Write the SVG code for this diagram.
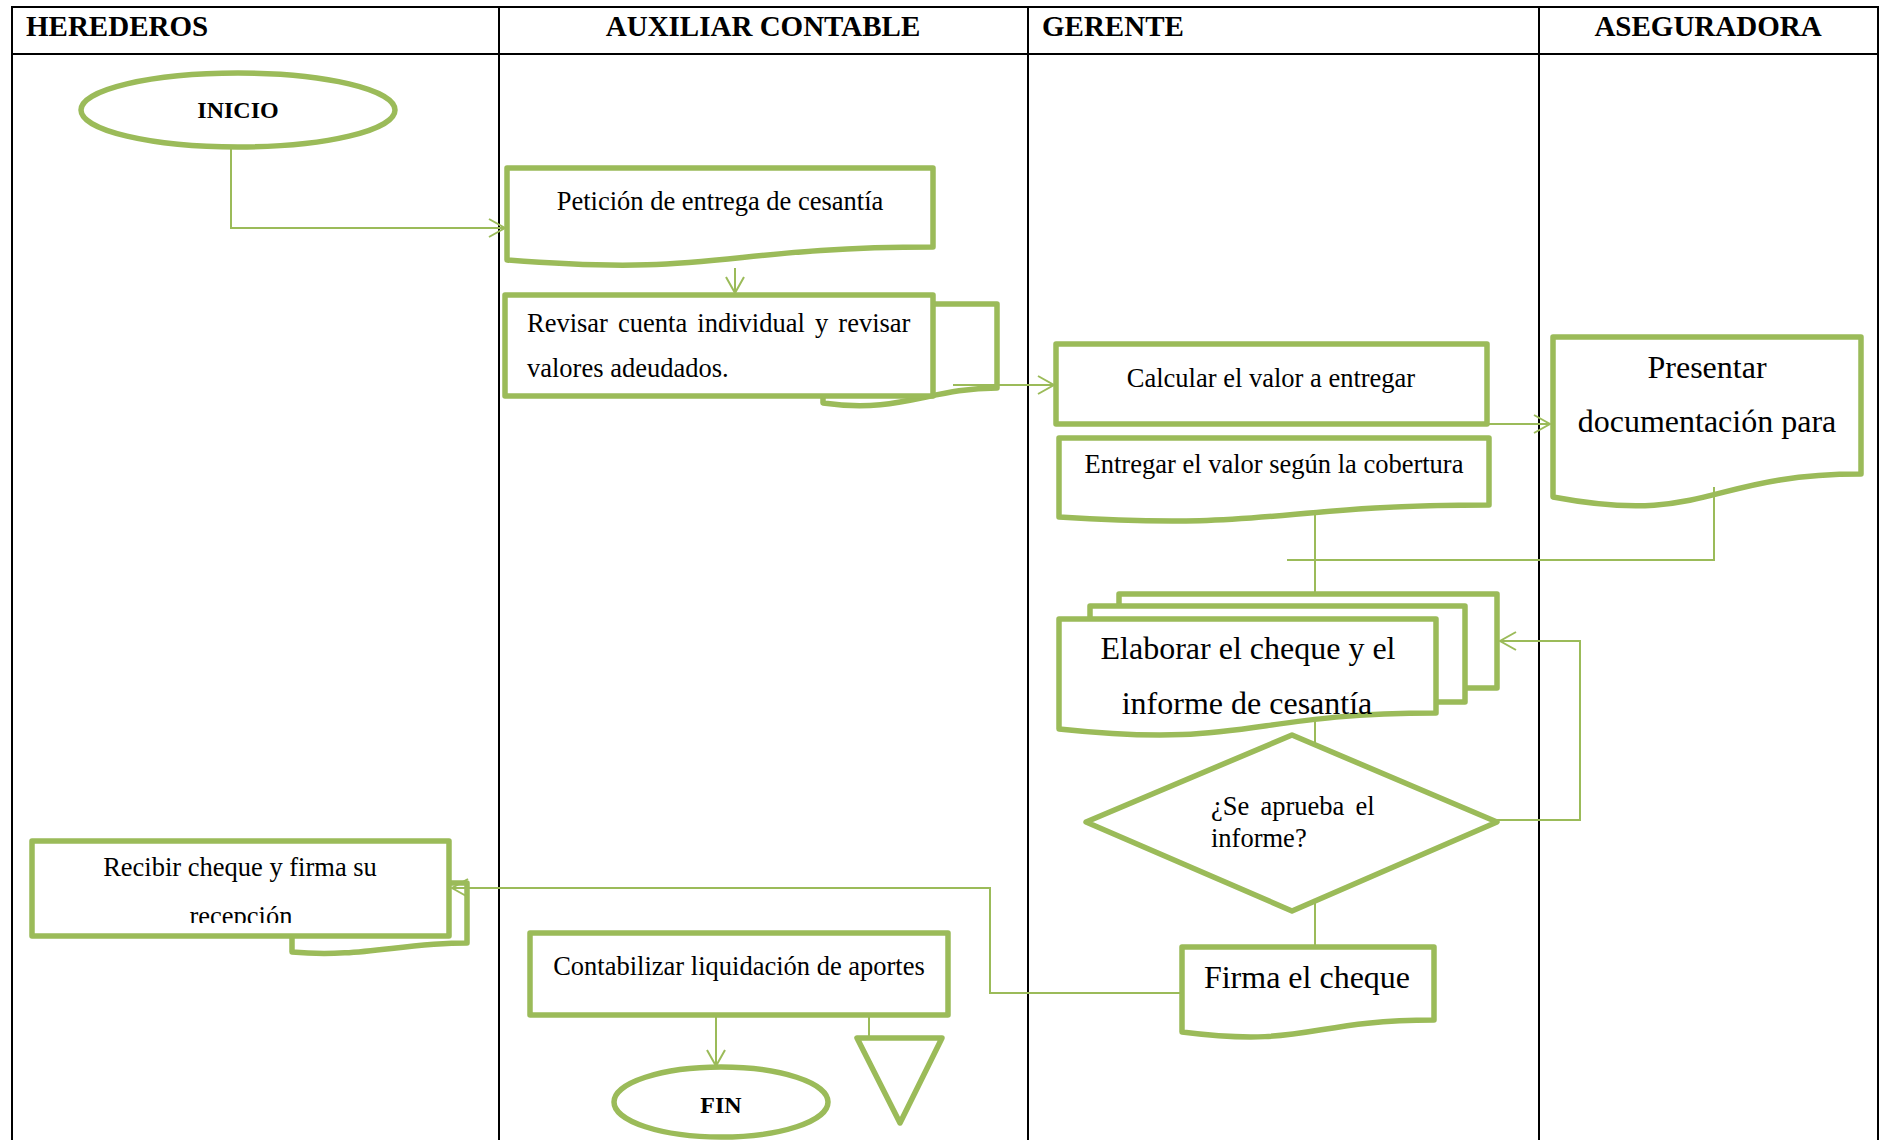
<svg xmlns="http://www.w3.org/2000/svg" width="1883" height="1140" viewBox="0 0 1883 1140">
<style>
  .grid{fill:none;stroke:#000;stroke-width:2}
  .hd{font-family:"Liberation Serif","Times New Roman",serif;font-weight:bold;font-size:29px;fill:#000}
  .shape{fill:#fff;stroke:#9BBB59;stroke-width:5.5;stroke-linejoin:round}
  .t{font-family:"Liberation Serif","Times New Roman",serif;font-size:26.5px;fill:#000}
  .big{font-size:32px}
  .b{font-weight:bold;font-size:24px}
  .c{text-anchor:middle}
  .conn{fill:none;stroke:#9BBB59;stroke-width:2}
</style>
<defs>
  <marker id="arr" viewBox="-18 -11 20 22" markerWidth="20" markerHeight="22" refX="0" refY="0" orient="auto" markerUnits="userSpaceOnUse">
    <path d="M-16,-9 L0,0 L-16,9" fill="none" stroke="#9BBB59" stroke-width="2"/>
  </marker>
  <clipPath id="recClip"><rect x="32" y="841" width="417" height="82"/></clipPath>
</defs>

<!-- swimlane table -->
<g id="lanes">
  <path class="grid" d="M12,1140 V7 H1878 V1140 M12,54 H1878 M499,7 V1140 M1028,7 V1140 M1539,7 V1140"/>
  <text class="hd" x="26" y="36">HEREDEROS</text>
  <text class="hd c" x="763" y="36">AUXILIAR CONTABLE</text>
  <text class="hd" x="1042" y="36">GERENTE</text>
  <text class="hd c" x="1708" y="36">ASEGURADORA</text>
</g>

<g id="inicio">
  <ellipse class="shape" cx="238" cy="110" rx="157" ry="37"/>
  <text class="t b c" x="238" y="118">INICIO</text>
</g>

<g id="peticion">
  <path class="shape" d="M507,168 H933 V247 C720,247 720,277 507,260 Z"/>
  <text class="t c" x="720" y="210">Petición de entrega de cesantía</text>
</g>

<g id="revisar">
  <path class="shape" d="M905,304 H997 V388 C930,388 900,414 823,403 L823,390 L905,390 Z"/>
  <rect class="shape" x="505" y="295" width="428" height="101"/>
  <text class="t" x="527" y="332" word-spacing="3.5">Revisar cuenta individual y revisar</text>
  <text class="t" x="527" y="377">valores adeudados.</text>
</g>

<g id="calcular">
  <rect class="shape" x="1056" y="344" width="431" height="80"/>
  <text class="t c" x="1271" y="387">Calcular el valor a entregar</text>
</g>

<g id="entregar">
  <path class="shape" d="M1059,438 H1489 V505 C1274,505 1274,531 1059,517 Z"/>
  <text class="t c" x="1274" y="473">Entregar el valor según la cobertura</text>
</g>

<g id="presentar">
  <path class="shape" d="M1553,337 H1861 V474 C1707,474 1707,526 1553,497 Z"/>
  <text class="t big c" x="1707" y="378">Presentar</text>
  <text class="t big c" x="1707" y="432">documentación para</text>
</g>

<g id="elaborar">
  <rect class="shape" x="1119" y="594" width="378" height="94"/>
  <rect class="shape" x="1090" y="606" width="375" height="96"/>
  <path class="shape" d="M1059,619 H1436 V713 C1247,713 1247,749 1059,729 Z"/>
  <text class="t big c" x="1248" y="659">Elaborar el cheque y el</text>
  <text class="t big c" x="1247" y="714">informe de cesantía</text>
</g>

<g id="aprueba">
  <polygon class="shape" points="1086,822 1292,735 1497,822 1292,911"/>
  <text class="t" x="1211" y="815" font-size="26" word-spacing="4.6">¿Se aprueba el</text>
  <text class="t" x="1211" y="847" font-size="26">informe?</text>
</g>

<g id="firma">
  <path class="shape" d="M1182,947 H1434 V1020 C1308,1020 1308,1048 1182,1032 Z"/>
  <text class="t big c" x="1307" y="988">Firma el cheque</text>
</g>

<g id="recibir">
  <path class="shape" d="M400,883 H467 V943 C400,943 360,958 292,952 L292,920 L400,920 Z"/>
  <rect class="shape" x="32" y="841" width="417" height="95"/>
  <text class="t c" x="240" y="876">Recibir cheque y firma su</text>
  <text class="t c" x="241" y="925" clip-path="url(#recClip)">recepción</text>
</g>

<g id="contabilizar">
  <rect class="shape" x="530" y="933" width="418" height="82"/>
  <text class="t c" x="739" y="975">Contabilizar liquidación de aportes</text>
</g>

<g id="fin">
  <ellipse class="shape" cx="721" cy="1102" rx="107" ry="35"/>
  <text class="t b c" x="721" y="1113">FIN</text>
</g>

<g id="archivo">
  <polygon class="shape" points="857,1038 942,1038 900,1123"/>
</g>

<g id="connectors">
  <path class="conn" d="M231,147 V228 H505" marker-end="url(#arr)"/>
  <path class="conn" d="M735,268 V293" marker-end="url(#arr)"/>
  <path class="conn" d="M953,385 H1054" marker-end="url(#arr)"/>
  <path class="conn" d="M1487,424 H1550" marker-end="url(#arr)"/>
  <path class="conn" d="M1714,487 V560 H1287"/>
  <path class="conn" d="M1315,514 V594"/>
  <path class="conn" d="M1315,720 V745"/>
  <path class="conn" d="M1315,902 V947"/>
  <path class="conn" d="M1497,820 H1580 V641 H1500" marker-end="url(#arr)"/>
  <path class="conn" d="M1182,993 H990 V888 H452" marker-end="url(#arr)"/>
  <path class="conn" d="M716,1015 V1066" marker-end="url(#arr)"/>
  <path class="conn" d="M869,1015 V1038"/>
</g>
</svg>
